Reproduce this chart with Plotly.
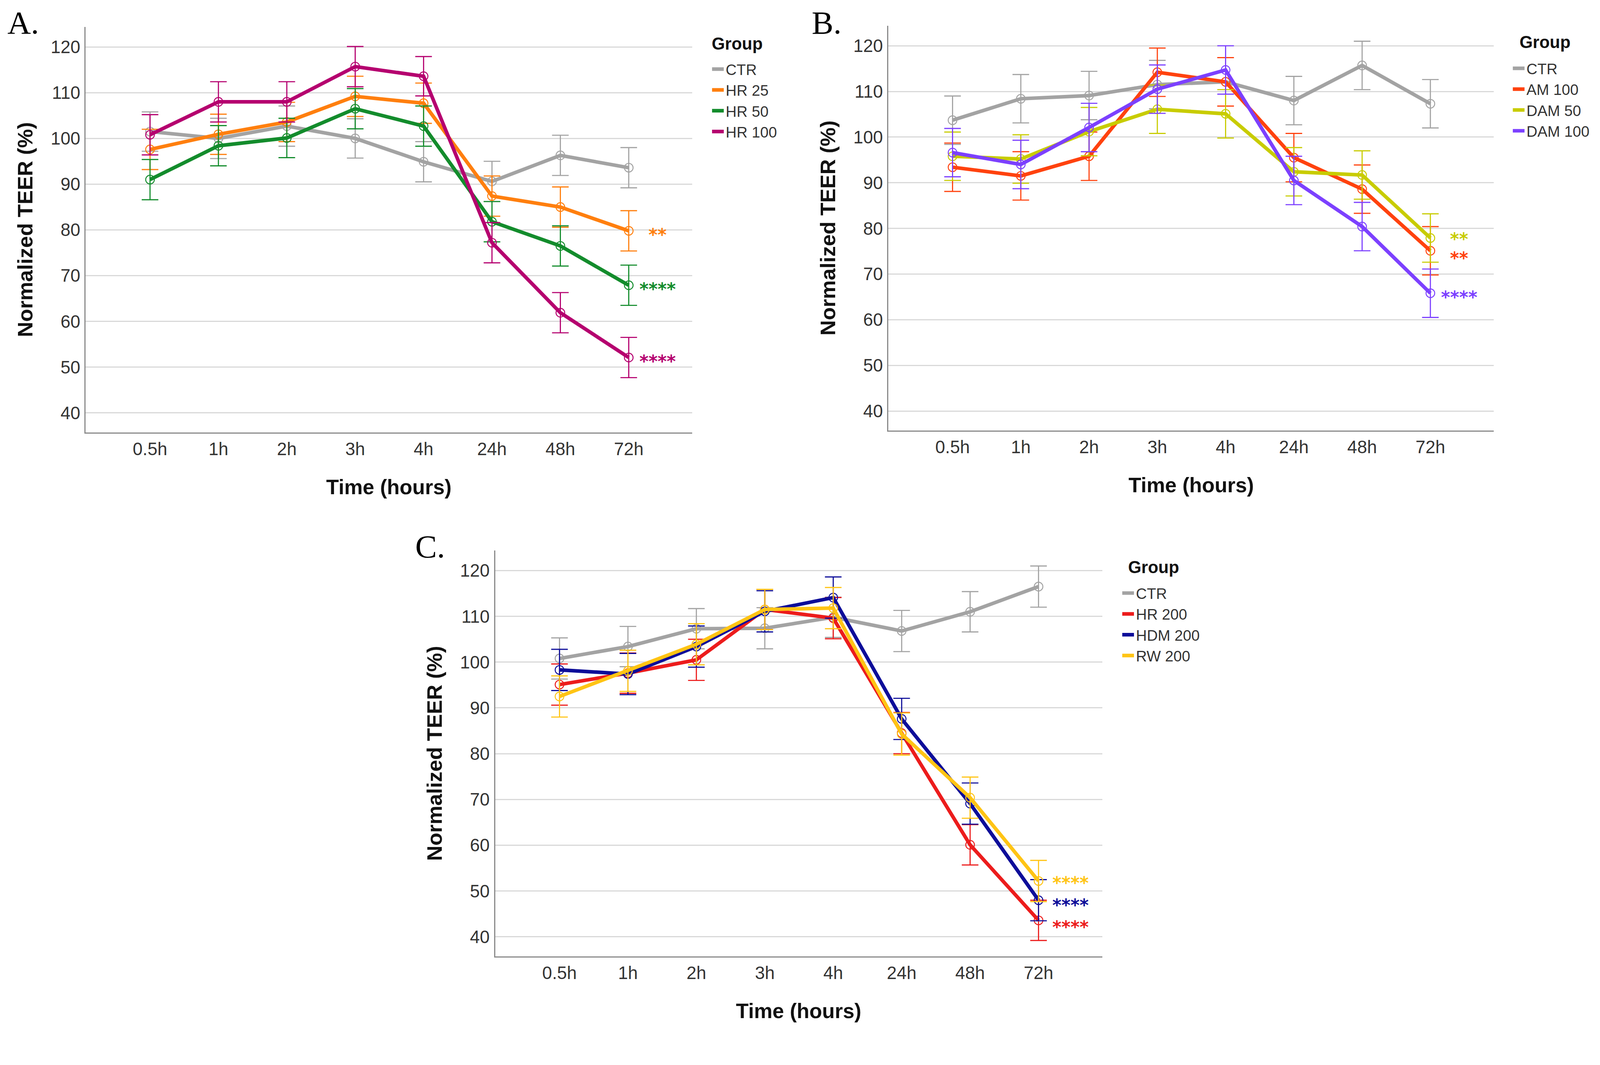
import plotly.graph_objects as go

# x categories shared by the three panels
times = ["0.5h", "1h", "2h", "3h", "4h", "24h", "48h", "72h"]
y_ticks = [40, 50, 60, 70, 80, 90, 100, 110, 120]

# Panel A
a_names = ["CTR", "HR 25", "HR 50", "HR 100"]
a_ctr = [101.5, 100.0, 102.7, 100.0, 94.9, 90.6, 96.3, 93.6]
a_hr25 = [97.6, 100.9, 103.6, 109.2, 107.7, 87.4, 85.0, 79.8]
a_hr50 = [91.0, 98.4, 100.1, 106.5, 102.7, 81.8, 76.5, 67.9]
a_hr100 = [100.8, 108.0, 108.0, 115.7, 113.6, 77.2, 61.9, 52.1]
a_ctr_err = [4.3, 4.4, 4.4, 4.3, 4.4, 4.4, 4.4, 4.4]
a_hr25_err = [4.4, 4.4, 4.3, 4.4, 4.4, 4.4, 4.4, 4.4]
a_hr50_err = [4.4, 4.4, 4.3, 4.4, 4.4, 4.4, 4.4, 4.4]
a_hr100_err = [4.4, 4.4, 4.4, 4.4, 4.3, 4.4, 4.4, 4.4]

# Panel B
b_names = ["CTR", "AM 100", "DAM 50", "DAM 100"]
b_ctr = [103.7, 108.4, 109.1, 111.5, 112.1, 108.0, 115.7, 107.3]
b_am100 = [93.4, 91.5, 95.8, 114.2, 112.1, 95.5, 88.6, 75.1]
b_dam50 = [95.8, 95.2, 101.2, 106.1, 105.1, 92.4, 91.7, 77.9]
b_dam100 = [96.6, 94.0, 102.1, 110.5, 114.7, 90.5, 80.4, 65.8]
b_ctr_err = [5.3, 5.3, 5.3, 5.3, 5.3, 5.3, 5.3, 5.3]
b_am100_err = [5.3, 5.3, 5.3, 5.3, 5.3, 5.3, 5.3, 5.3]
b_dam50_err = [5.3, 5.3, 5.3, 5.3, 5.3, 5.3, 5.3, 5.3]
b_dam100_err = [5.3, 5.3, 5.3, 5.3, 5.3, 5.3, 5.3, 5.3]

# Panel C
c_names = ["CTR", "HR 200", "HDM 200", "RW 200"]
c_ctr = [100.8, 103.4, 107.3, 107.4, 109.8, 106.8, 111.0, 116.5]
c_hr200 = [95.1, 97.6, 100.5, 111.5, 109.6, 84.5, 60.1, 43.6]
c_hdm200 = [98.3, 97.4, 103.4, 111.1, 114.1, 87.6, 69.1, 48.0]
c_rw200 = [92.5, 98.1, 103.9, 111.5, 111.8, 84.3, 70.4, 52.2]
c_ctr_err = [4.5, 4.4, 4.4, 4.5, 4.4, 4.5, 4.4, 4.5]
c_hr200_err = [4.5, 4.4, 4.5, 4.4, 4.5, 4.5, 4.4, 4.4]
c_hdm200_err = [4.5, 4.5, 4.5, 4.5, 4.5, 4.5, 4.5, 4.5]
c_rw200_err = [4.5, 4.5, 4.5, 4.4, 4.5, 4.6, 4.5, 4.5]

# significance marks at 72h: (group index, text, value where the mark sits)
a_stars = [(1, "**", 79.8), (2, "****", 67.9), (3, "****", 52.1)]
b_stars = [(2, "**", 78.5), (1, "**", 74.3), (3, "****", 65.8)]
c_stars = [(3, "****", 52.6), (2, "****", 47.8), (1, "****", 43.0)]

# the page is seen through a 4096 px wide viewport and scaled up to 4236,
# and the body keeps its 8px margin; layout numbers below are in reference pixels
S = 4236 / 4096
OFF = 8
W, H = 4096 - 2 * OFF, 2636 - 2 * OFF
TICK_FONT = "Liberation Sans, Arial, sans-serif"
BOLD_FONT = "Liberation Sans, Arial, sans-serif"
STAR_FONT = "DejaVu Sans, sans-serif"


def px_x(v):
    return (v / S - OFF) / W


def px_y(v):
    return 1 - (v / S - OFF) / H


def sz(v):
    return v / S


panels = [
    dict(key="", leg="legend", names=a_names, label="A.",
         series=[a_ctr, a_hr25, a_hr50, a_hr100],
         errors=[a_ctr_err, a_hr25_err, a_hr50_err, a_hr100_err],
         colors=["#a3a3a3", "#ff7f0e", "#138c2c", "#b5006f"],
         stars=a_stars, box=(227, 1833, 71, 1145), lab=(18, 10),
         legpos=(1880, 266), group=(1952, 116)),
    dict(key="2", leg="legend2", names=b_names, label="B.",
         series=[b_ctr, b_am100, b_dam50, b_dam100],
         errors=[b_ctr_err, b_am100_err, b_dam50_err, b_dam100_err],
         colors=["#a3a3a3", "#ff420e", "#c8cc00", "#7c40ff"],
         stars=b_stars, box=(2352, 3955, 68, 1140), lab=(2147, 10),
         legpos=(4000, 264), group=(4090, 112)),
    dict(key="3", leg="legend3", names=c_names, label="C.",
         series=[c_ctr, c_hr200, c_hdm200, c_rw200],
         errors=[c_ctr_err, c_hr200_err, c_hdm200_err, c_rw200_err],
         colors=["#a3a3a3", "#ec1c1c", "#0d0d99", "#ffc414"],
         stars=c_stars, box=(1311, 2918, 1457, 2532), lab=(1097, 1397),
         legpos=(2966, 1653), group=(3054, 1502)),
]

fig = go.Figure()
annotations = []
layout = dict(
    width=W, height=H,
    margin=dict(l=0, r=0, t=0, b=0),
    paper_bgcolor="white", plot_bgcolor="white",
    showlegend=True,
)

for p in panels:
    xa, ya = "x" + p["key"], "y" + p["key"]
    for name, vals, errs, color in zip(p["names"], p["series"], p["errors"], p["colors"]):
        fig.add_trace(go.Scatter(
            x=times, y=vals, mode="lines", name=name, legend=p["leg"],
            line=dict(color=color, width=sz(9.5)), xaxis=xa, yaxis=ya,
        ))
        fig.add_trace(go.Scatter(
            x=times, y=vals, mode="markers", showlegend=False,
            marker=dict(symbol="circle-open", size=sz(23), color=color, line=dict(width=sz(2.5))),
            error_y=dict(type="data", array=errs, visible=True, color=color,
                         thickness=sz(3), width=sz(22)),
            xaxis=xa, yaxis=ya,
        ))

    x0, x1, y0, y1 = p["box"]
    layout["xaxis" + p["key"]] = dict(
        domain=[px_x(x0), px_x(x1)], anchor=ya, type="category",
        categoryorder="array", categoryarray=times, range=[-0.94, 7.93],
        showline=True, linecolor="#8a8a8a", linewidth=sz(3), showgrid=False,
        zeroline=False, ticks="", ticklabelstandoff=0,
        tickfont=dict(family=TICK_FONT, size=sz(47), color="#333333"),
    )
    layout["yaxis" + p["key"]] = dict(
        domain=[px_y(y1), px_y(y0)], anchor=xa, range=[35.7, 124.4],
        tickvals=y_ticks, showline=True, linecolor="#8a8a8a", linewidth=sz(3),
        showgrid=True, gridcolor="#d9d9d9", gridwidth=sz(3), zeroline=False,
        ticks="", ticklabelstandoff=2,
        tickfont=dict(family=TICK_FONT, size=sz(47), color="#333333"),
    )
    lx, ly = p["legpos"]
    layout[p["leg"]] = dict(
        x=px_x(lx), y=px_y(ly), xanchor="left", yanchor="middle",
        bgcolor="rgba(0,0,0,0)",
        font=dict(family=TICK_FONT, size=sz(40), color="#333333"),
    )
    # legend heading
    gx, gy = p["group"]
    annotations.append(dict(
        xref="paper", yref="paper", x=px_x(gx), y=px_y(gy),
        text="<b>Group</b>", showarrow=False, xanchor="center", yanchor="middle",
        font=dict(family=BOLD_FONT, size=sz(45), color="#111111"),
    ))

    # axis titles
    annotations.append(dict(
        xref="paper", yref="paper", x=px_x(x0 - 161), y=px_y((y0 + y1) / 2),
        text="<b>Normalized TEER (%)</b>", textangle=-90, showarrow=False,
        xanchor="center", yanchor="middle",
        font=dict(family=BOLD_FONT, size=sz(56), color="#111111"),
    ))
    annotations.append(dict(
        xref="paper", yref="paper", x=px_x((x0 + x1) / 2), y=px_y(y1 + 144),
        text="<b>Time (hours)</b>", showarrow=False,
        xanchor="center", yanchor="middle",
        font=dict(family=BOLD_FONT, size=sz(55), color="#111111"),
    ))
    # panel label
    lab_x, lab_y = p["lab"]
    annotations.append(dict(
        xref="paper", yref="paper", x=px_x(lab_x), y=px_y(lab_y),
        text=p["label"], showarrow=False, xanchor="left", yanchor="top",
        font=dict(family="Liberation Serif, Times New Roman, serif", size=sz(86), color="black"),
    ))
    # significance stars next to the 72h points
    for idx, txt, yv in p["stars"]:
        shift = 50 if len(txt) == 2 else 26
        if p["key"] == "3":
            shift = 34
        annotations.append(dict(
            xref=xa, yref=ya, x=times[-1], y=yv,
            text="<b>" + txt + "</b>", showarrow=False, xanchor="left", yanchor="middle",
            xshift=sz(shift), yshift=sz(-10),
            font=dict(family=STAR_FONT, size=sz(46), color=p["colors"][idx]),
        ))

layout["annotations"] = annotations
fig.update_layout(**layout)
fig.write_html("out.html")
